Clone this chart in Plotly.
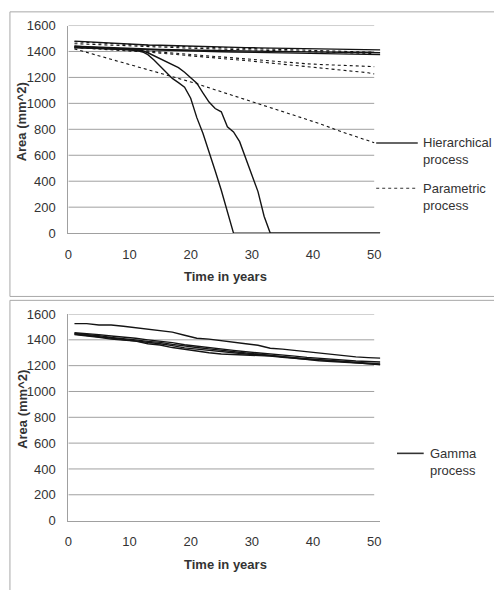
import plotly.graph_objects as go

# ---------------- data ----------------
ODD_YEARS = list(range(1, 52, 2))                      # 1..51
PARAM_YEARS = list(range(1, 50, 2)) + [50]             # 1..49, 50
Y_TICKS = [0, 200, 400, 600, 800, 1000, 1200, 1400, 1600]
X_TICKS = [0, 10, 20, 30, 40, 50]

# Hierarchical process (solid)
H1 = [1480, 1475, 1465, 1460, 1457, 1453, 1450, 1448, 1445, 1440, 1438, 1436, 1434,
      1432, 1430, 1428, 1426, 1425, 1423, 1421, 1419, 1418, 1416, 1415, 1413, 1412]
H2 = [1440, 1436, 1430, 1426, 1422, 1420, 1418, 1415, 1413, 1411, 1409, 1407, 1405,
      1403, 1402, 1401, 1400, 1399, 1398, 1397, 1396, 1395, 1394, 1393, 1392, 1390]
H3 = [1430, 1427, 1423, 1420, 1417, 1414, 1412, 1410, 1407, 1404, 1402, 1400, 1398,
      1396, 1394, 1392, 1390, 1388, 1387, 1386, 1385, 1383, 1381, 1379, 1378, 1376]
C1_YEARS = [1, 4, 7, 10, 12, 13, 14, 15, 16, 17, 18, 19, 20, 21, 22, 23, 24, 25, 26, 27, 51]
C1 = [1430, 1425, 1420, 1412, 1400, 1375, 1335, 1285, 1240, 1192, 1160, 1125, 1040,
      890, 770, 630, 480, 330, 160, 0, 0]
C2_YEARS = [1, 4, 7, 10, 12, 13, 14, 15, 16, 17, 18, 19, 20, 21, 22, 23, 24, 25, 26,
            27, 28, 29, 30, 31, 32, 33, 51]
C2 = [1440, 1432, 1425, 1418, 1408, 1390, 1368, 1345, 1322, 1300, 1275, 1240, 1200,
      1155, 1080, 1010, 960, 935, 820, 780, 705, 580, 440, 320, 130, 0, 0]

# Parametric process (dashed)
P1 = [1475, 1470, 1462, 1457, 1453, 1450, 1447, 1444, 1441, 1438, 1435, 1432, 1429,
      1426, 1423, 1420, 1417, 1414, 1411, 1408, 1405, 1402, 1399, 1397, 1395, 1394]
P2 = [1460, 1456, 1450, 1446, 1442, 1439, 1436, 1433, 1430, 1427, 1424, 1421, 1418,
      1415, 1412, 1409, 1406, 1403, 1400, 1397, 1394, 1391, 1389, 1387, 1385, 1384]
P3 = [1440, 1436, 1430, 1424, 1418, 1412, 1405, 1396, 1388, 1380, 1372, 1364, 1356,
      1348, 1340, 1332, 1324, 1316, 1310, 1305, 1300, 1296, 1292, 1289, 1286, 1283]
P4 = [1430, 1425, 1420, 1414, 1408, 1402, 1395, 1387, 1378, 1370, 1362, 1354, 1346,
      1338, 1330, 1321, 1312, 1303, 1294, 1285, 1276, 1266, 1256, 1246, 1236, 1226]
P5 = [1420, 1393, 1367, 1340, 1314, 1288, 1262, 1236, 1208, 1180, 1152, 1120, 1090,
      1060, 1030, 1000, 970, 940, 908, 876, 844, 808, 776, 744, 712, 697]

# Gamma process (solid)
G1 = [1525, 1525, 1515, 1515, 1505, 1495, 1485, 1470, 1460, 1435, 1412, 1405, 1395,
      1380, 1370, 1358, 1335, 1328, 1318, 1310, 1295, 1290, 1280, 1268, 1262, 1258]
G2 = [1455, 1450, 1440, 1430, 1422, 1412, 1400, 1390, 1378, 1362, 1350, 1340, 1328,
      1318, 1308, 1300, 1294, 1286, 1274, 1264, 1256, 1248, 1242, 1236, 1232, 1228]
G3 = [1445, 1435, 1425, 1410, 1400, 1395, 1385, 1370, 1355, 1338, 1328, 1318, 1308,
      1298, 1290, 1284, 1278, 1270, 1262, 1254, 1246, 1238, 1230, 1222, 1214, 1206]
G4 = [1450, 1442, 1432, 1418, 1410, 1400, 1388, 1380, 1365, 1350, 1340, 1330, 1318,
      1305, 1298, 1290, 1280, 1268, 1256, 1246, 1238, 1232, 1226, 1220, 1214, 1210]
G5 = [1440, 1432, 1420, 1405, 1396, 1390, 1370, 1360, 1340, 1325, 1315, 1300, 1290,
      1286, 1282, 1278, 1274, 1264, 1256, 1250, 1246, 1240, 1234, 1226, 1218, 1214]

# ---------------- figure ----------------
W, H = 494, 590
FONT = "Liberation Sans, Arial, sans-serif"
LINE = "#141414"
GRID = "#a0a0a0"
TXT = "#333333"

def px_x(p):
    return p / W

def px_y(p):
    return 1 - p / H

fig = go.Figure()

solid = dict(color=LINE, width=1.4)
dashed = dict(color=LINE, width=1.1, dash="3px,3px")

for ys in (H1, H2, H3):
    fig.add_trace(go.Scatter(x=ODD_YEARS, y=ys, mode="lines", line=solid,
                             xaxis="x", yaxis="y", showlegend=False))
fig.add_trace(go.Scatter(x=C1_YEARS, y=C1, mode="lines", line=solid,
                         xaxis="x", yaxis="y", showlegend=False))
fig.add_trace(go.Scatter(x=C2_YEARS, y=C2, mode="lines", line=solid,
                         xaxis="x", yaxis="y", showlegend=False))
for ys in (P1, P2, P3, P4, P5):
    fig.add_trace(go.Scatter(x=PARAM_YEARS, y=ys, mode="lines", line=dashed,
                             xaxis="x", yaxis="y", showlegend=False))
for ys in (G1, G2, G3, G4, G5):
    fig.add_trace(go.Scatter(x=ODD_YEARS, y=ys, mode="lines", line=solid,
                             xaxis="x2", yaxis="y2", showlegend=False))

x_dom = [px_x(65), px_x(65 + 51 * (309 / 50))]
top_dom = [px_y(232), px_y(19)]
bot_dom = [px_y(527), px_y(315)]

xcommon = dict(range=[0, 51], tickvals=X_TICKS, showgrid=False, zeroline=False,
               showline=True, linecolor=GRID, linewidth=1, ticks="",
               ticklabelstandoff=9, tickfont=dict(family=FONT, size=13, color=TXT),
               fixedrange=True)
ycommon = dict(range=[0, 1600], tickvals=Y_TICKS, showgrid=False, zeroline=False,
               showline=True, linecolor=GRID, linewidth=1, ticks="",
               ticklabelstandoff=9, tickfont=dict(family=FONT, size=13, color=TXT),
               fixedrange=True)

fig.update_layout(
    width=W, height=H,
    margin=dict(l=0, r=0, t=0, b=0),
    paper_bgcolor="white", plot_bgcolor="rgba(0,0,0,0)",
    showlegend=False,
    font=dict(family=FONT, size=13, color=TXT),
    xaxis=dict(domain=x_dom, anchor="y", **xcommon),
    yaxis=dict(domain=top_dom, anchor="x", **ycommon),
    xaxis2=dict(domain=x_dom, anchor="y2", **xcommon),
    yaxis2=dict(domain=bot_dom, anchor="x2", **ycommon),
)

shapes = []
# horizontal gridlines (Excel style, ending at x = 50)
for xr, yr in (("x", "y"), ("x2", "y2")):
    for t in Y_TICKS[1:]:
        shapes.append(dict(type="line", xref=xr, yref=yr, x0=0, x1=X_TICKS[-1], y0=t, y1=t,
                           line=dict(color=GRID, width=1), layer="below"))

# panel borders (running off the right / bottom edges like the reference)
shapes.append(dict(type="rect", xref="paper", yref="paper",
                   x0=px_x(6), x1=px_x(W + 60), y0=px_y(297), y1=px_y(5),
                   line=dict(color="#a8a8a8", width=1), layer="below"))
shapes.append(dict(type="rect", xref="paper", yref="paper",
                   x0=px_x(6), x1=px_x(W + 60), y0=px_y(H + 60), y1=px_y(301),
                   line=dict(color="#a8a8a8", width=1), layer="below"))

# manual legends
shapes.append(dict(type="line", xref="paper", yref="paper",
                   x0=px_x(376), x1=px_x(418), y0=px_y(139.5), y1=px_y(139.5),
                   line=dict(color="#333333", width=1.6)))
shapes.append(dict(type="line", xref="paper", yref="paper",
                   x0=px_x(376), x1=px_x(417), y0=px_y(186), y1=px_y(186),
                   line=dict(color="#333333", width=1.1, dash="3px,3px")))
shapes.append(dict(type="line", xref="paper", yref="paper",
                   x0=px_x(397), x1=px_x(424), y0=px_y(458), y1=px_y(458),
                   line=dict(color="#333333", width=1.6)))
fig.update_layout(shapes=shapes)

def ann(text, x, y, **kw):
    d = dict(text=text, xref="paper", yref="paper", x=px_x(x), y=px_y(y),
             showarrow=False, font=dict(family=FONT, size=13, color=TXT))
    d.update(kw)
    return d

annotations = [
    ann("Hierarchical<br>process", 421, 148, xanchor="left", yanchor="middle", align="left"),
    ann("Parametric<br>process", 421, 194.5, xanchor="left", yanchor="middle", align="left"),
    ann("Gamma<br>process", 428, 466.5, xanchor="left", yanchor="middle", align="left"),
    ann("<b>Time in years</b>", 224, 277, xanchor="center", yanchor="middle"),
    ann("<b>Time in years</b>", 224, 572, xanchor="center", yanchor="middle"),
    ann("<b>Area (mm^2)</b>", 18, 117.5, xanchor="center", yanchor="middle", textangle=-90),
    ann("<b>Area (mm^2)</b>", 18, 412.5, xanchor="center", yanchor="middle", textangle=-90),
]
fig.update_layout(annotations=annotations)

fig.write_html(
    "out.html",
    config={"displayModeBar": False},
    post_script="document.body.style.margin='0';document.body.style.overflow='hidden';",
)
